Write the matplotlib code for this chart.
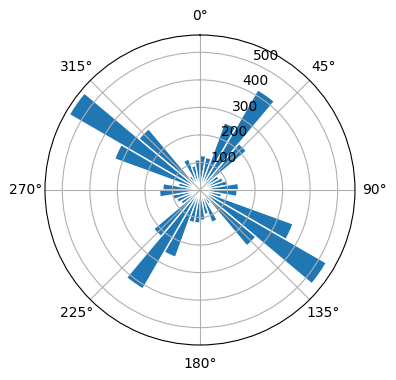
import numpy as np
import matplotlib.pyplot as plt

# bin centres in degrees (10 degree bins), counts
directions = np.arange(5, 360, 10)
counts = [125, 120, 260, 420, 220, 80, 90, 100, 140,
          135, 80, 360, 530, 265, 60, 125, 90, 110,
          120, 120, 260, 415, 220, 80, 90, 100, 147,
          135, 80, 330, 548, 290, 60, 120, 90, 110]

fig = plt.figure(figsize=(3.96, 3.8), dpi=100)
ax = fig.add_axes([0.1136, 0.0921, 0.7828, 0.8158], projection='polar')
ax.set_theta_zero_location('N')
ax.set_theta_direction(-1)
ax.bar(np.deg2rad(directions), counts, width=np.deg2rad(10),
       color='C0', edgecolor='white')
ax.set_rmax(563)
ax.set_rticks([100, 200, 300, 400, 500])
ax.grid(True)

fig.savefig('out.png')
